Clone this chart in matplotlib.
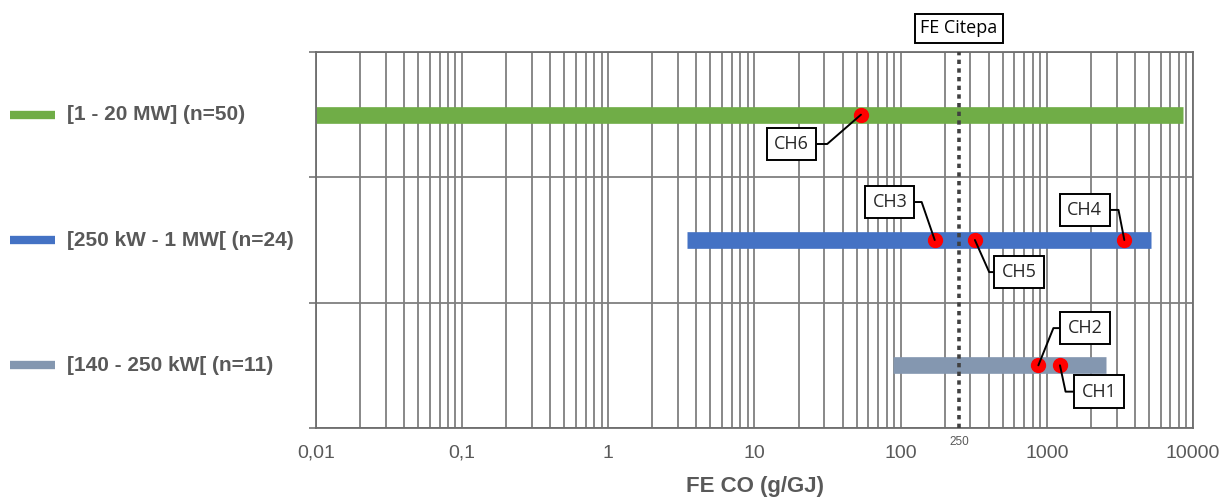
import numpy as np
import matplotlib.pyplot as plt
from matplotlib.ticker import LogLocator, FixedLocator, NullFormatter

# categories (top to bottom) and their ranges of FE CO (g/GJ)
categories = ['[1 - 20 MW] (n=50)', '[250 kW - 1 MW[ (n=24)', '[140 - 250 kW[ (n=11)']
range_min = [0.01, 3.46, 89]
range_max = [8500, 5150, 2520]
bar_colors = ['#70ad47', '#4472c4', '#8497b0']

# individual sites
site_names = ['CH6', 'CH3', 'CH5', 'CH4', 'CH2', 'CH1']
site_cat = [0, 1, 1, 1, 2, 2]
site_values = [53.5, 171, 322, 3390, 875, 1230]

fe_citepa = 250
xticks = [0.01, 0.1, 1, 10, 100, 1000, 10000]
xtick_labels = ['0,01', '0,1', '1', '10', '100', '1000', '10000']

txt_grey = '#595959'
box_font = ['Open Sans', 'DejaVu Sans']
plt.rcParams['font.family'] = ['Liberation Sans', 'DejaVu Sans']

fig = plt.figure(figsize=(12.21, 4.97), dpi=100)
ax = fig.add_axes([316 / 1221, 1 - 428 / 497, 877 / 1221, 376 / 497])

ypos = np.arange(len(categories)) + 0.5
ax.set_xscale('log')
ax.set_xlim(0.01, 10000)
ax.set_ylim(len(categories), 0)

# grid
ax.xaxis.set_major_locator(FixedLocator(xticks))
ax.xaxis.set_minor_locator(LogLocator(base=10, subs=np.arange(2, 10)))
ax.xaxis.set_minor_formatter(NullFormatter())
ax.set_xticklabels(xtick_labels)
ax.set_yticks(np.arange(len(categories) + 1))
ax.set_yticklabels([])
ax.grid(True, which='both', axis='x', color='#7f7f7f', lw=1.3)
ax.grid(True, which='major', axis='y', color='#7f7f7f', lw=1.3)
ax.set_axisbelow(True)
ax.tick_params(axis='x', which='both', length=0, pad=12, labelsize=14, labelcolor=txt_grey)
ax.tick_params(axis='y', length=5, color='#7f7f7f', width=1.3)
for s in ax.spines.values():
    s.set_color('#6e6e6e')
    s.set_linewidth(1.3)

# range bars
for y, lo, hi, c in zip(ypos, range_min, range_max, bar_colors):
    ax.plot([lo, hi], [y, y], color=c, lw=12, solid_capstyle='butt', zorder=2)

# reference line
ax.axvline(fe_citepa, color='#404040', lw=2.6, ls=(0, (1.2, 1.2)), zorder=3)
ax.annotate('FE Citepa', xy=(fe_citepa, 1.0), xycoords=('data', 'axes fraction'),
            xytext=(0, 17), textcoords='offset points', ha='center', va='center',
            fontsize=13, family=box_font, color='black',
            bbox=dict(boxstyle='square,pad=0.3', fc='white', ec='black', lw=1.4))
ax.annotate(str(fe_citepa), xy=(fe_citepa, 0), xycoords=('data', 'axes fraction'),
            xytext=(0, -10), textcoords='offset points', ha='center', va='center',
            fontsize=8.5, color=txt_grey)

# site points
ax.scatter(site_values, [ypos[i] for i in site_cat], s=100, color='red', zorder=5)

# labels: (text x, text y, which box side, angle of the leader end)
label_pos = {
    'CH6': (18.0, 0.734, 1, 41),
    'CH3': (84.3, 1.197, 1, -71),
    'CH5': (644, 1.756, 0, 114),
    'CH4': (1820, 1.26, 1, -79),
    'CH2': (1820, 2.203, 0, -112),
    'CH1': (2270, 2.71, 0, 102),
}
for name, v, ci in zip(site_names, site_values, site_cat):
    tx, ty, side, ang = label_pos[name]
    ax.annotate(name, xy=(v, ypos[ci]), xytext=(tx, ty), ha='center', va='center',
                fontsize=13, family=box_font, color='#262626', zorder=6,
                bbox=dict(boxstyle='square,pad=0.4', fc='white', ec='black', lw=1.4),
                arrowprops=dict(arrowstyle='-', color='black', lw=1.4, relpos=(side, 0.5),
                                shrinkA=0, shrinkB=0,
                                connectionstyle='angle,angleA=0,angleB=%d,rad=0' % ang))

# left-hand legend
for y, cat, c in zip(ypos, categories, bar_colors):
    ax.plot([-0.349, -0.298], [y, y], transform=ax.get_yaxis_transform(), color=c,
            lw=6, solid_capstyle='butt', clip_on=False)
    ax.text(-0.284, y, cat, transform=ax.get_yaxis_transform(), ha='left', va='center',
            fontsize=15, fontweight='bold', color=txt_grey)

ax.set_xlabel('FE CO (g/GJ)', fontsize=16, fontweight='bold', color=txt_grey, labelpad=10)

fig.savefig('out.png', dpi=100)
